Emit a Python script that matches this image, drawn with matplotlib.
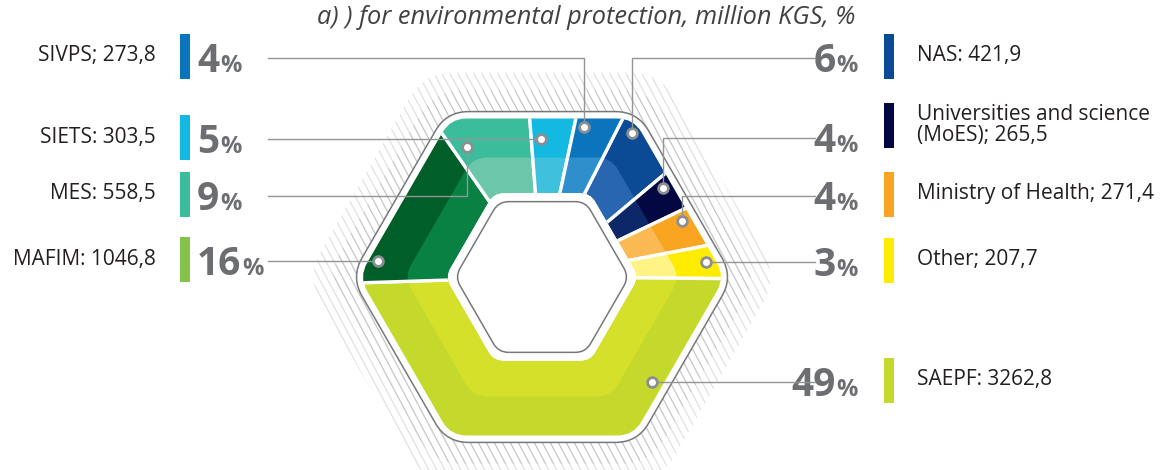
import numpy as np
import matplotlib.pyplot as plt
from matplotlib.path import Path
from matplotlib.patches import PathPatch, Rectangle
from matplotlib.collections import LineCollection

plt.rcParams['font.family'] = ['Open Sans', 'DejaVu Sans']

title = 'a) ) for environmental protection, million KGS, %'

# clockwise from the top
names = ['NAS:', 'Universities and science\n(MoES);', 'Ministry of Health;', 'Other;',
         'SAEPF:', 'MAFIM:', 'MES:', 'SIETS:', 'SIVPS;']
values = [421.9, 265.5, 271.4, 207.7, 3262.8, 1046.8, 558.5, 303.5, 273.8]
shares = [6, 4, 4, 3, 49, 16, 9, 5, 4]

outer_colors = ['#0b4a94', '#030842', '#f9a521', '#ffec00', '#c5d92d',
                '#005e28', '#3bbd9b', '#13b9e1', '#0a75bc']
inner_colors = ['#2866b1', '#0d2868', '#fbb954', '#fff385', '#d4e02a',
                '#088143', '#6bc6aa', '#3fc0dd', '#2f8ecc']
legend_colors = ['#0b4a94', '#030842', '#f9a521', '#ffec00', '#c5d92d',
                 '#84c24a', '#3bbd9b', '#13b9e1', '#0a75bc']

# layout (image pixel rows, measured from the top)
side = ['R', 'R', 'R', 'R', 'R', 'L', 'L', 'L', 'L']
rows = [58, 138, 196, 262, 382, 261, 196, 139, 58]

W, H = 1168, 470
fig = plt.figure(figsize=(W / 100, H / 100), dpi=100)
ax = fig.add_axes([0, 0, 1, 1])
cx, cy = 542, H - 277
grey = '#6d6e71'
line_c = '#939598'


def hex_verts(R, rc, rev=False):
    angs = np.radians(np.arange(0, 360, 60))
    if rev:
        angs = angs[::-1]
    V = np.c_[cx + R * np.cos(angs), cy + R * np.sin(angs)]
    verts, codes = [], []
    for i in range(6):
        p, v, q = V[i - 1], V[i], V[(i + 1) % 6]
        a = v + (p - v) / np.linalg.norm(p - v) * rc
        b = v + (q - v) / np.linalg.norm(q - v) * rc
        verts += [a, v, b]
        codes += [Path.LINETO if i else Path.MOVETO, Path.CURVE3, Path.CURVE3]
    verts.append(verts[0])
    codes.append(Path.CLOSEPOLY)
    return verts, codes


def hex_path(R, rc):
    v, c = hex_verts(R, rc)
    return Path(v, c)


def ring_path(r1, rc1, r2, rc2):
    v1, c1 = hex_verts(r1, rc1)
    v2, c2 = hex_verts(r2, rc2, rev=True)
    return Path(v1 + v2, c1 + c2)


# hatched halo, denser near the hexagon
slant = 1 / np.tan(np.radians(62))
x0 = np.arange(cx - 450, cx + 300, 8)
for R_h, col in [(236, '#dedede'), (216, '#c9c9c9')]:
    segs = [[(x, cy + 260), (x + 520 * slant, cy - 260)] for x in x0]
    lc = LineCollection(segs, colors=col, linewidths=0.8, zorder=1)
    ax.add_collection(lc)
    lc.set_clip_path(hex_path(R_h, 30), ax.transData)

ax.add_patch(PathPatch(hex_path(191, 22), fc='white', ec='#77787b', lw=1.1, zorder=2))
ax.add_patch(PathPatch(hex_path(87, 10), fc='white', ec='#77787b', lw=1.1, zorder=2))

band = ring_path(183, 16, 97, 10)
light = ring_path(138, 14, 97, 10)
wedges, _ = ax.pie(values, colors=outer_colors, startangle=63, counterclock=False,
                   center=(cx, cy), radius=230, frame=True,
                   wedgeprops=dict(ec='white', lw=2.4, zorder=3))
for w in wedges:
    w.set_clip_on(True)
    w.set_clip_path(band, ax.transData)
w_in, _ = ax.pie(values, colors=inner_colors, startangle=63, counterclock=False,
                 center=(cx, cy), radius=230, frame=True,
                 wedgeprops=dict(ec='white', lw=2.4, zorder=4))
for w in w_in:
    w.set_clip_on(True)
    w.set_clip_path(light, ax.transData)


def hex_point(deg, R):
    rel = deg % 60 - 30
    d = R * np.cos(np.pi / 6) / np.cos(np.radians(rel))
    a = np.radians(deg)
    return cx + d * np.cos(a), cy + d * np.sin(a)


renderer = fig.canvas.get_renderer()

for i, w in enumerate(wedges):
    y = H - rows[i]
    left = side[i] == 'L'
    anchor = 268 if left else 815
    # place the dot inside the outer band, as close to the label row as possible
    m = min(5, 0.25 * (w.theta2 - w.theta1))
    A, R = np.meshgrid(np.linspace(w.theta1 + m, w.theta2 - m, 150), np.linspace(150, 173, 20))
    px, py = hex_point(A.ravel(), R.ravel())
    cost = np.abs(py - y) + 0.15 * np.abs(px - anchor)
    k = np.argmin(cost)
    dx, dy = px[k], py[k]
    if abs(dy - y) < 2:
        dy = y
        ax.plot([anchor, dx], [y, y], color=line_c, lw=1, zorder=5)
    else:
        ax.plot([anchor, dx, dx], [y, y, dy], color=line_c, lw=1, zorder=5)
    ax.plot(dx, dy, 'o', ms=7, mfc='white', mec='#8d8e91', mew=2, zorder=6)

    nl = names[i].count('\n')
    ly = y + 2 + nl * 11
    label = f'{names[i]} {values[i]:.1f}'.replace('.', ',')
    bx = 180 if left else 884
    ax.add_patch(Rectangle((bx, ly - 22.5), 10, 45, color=legend_colors[i], lw=0, zorder=5))
    if left:
        ax.text(156, ly, label, ha='right', va='center', fontsize=15, color='#231f20')
        t = ax.text(197, y - 14, str(shares[i]), ha='left', va='baseline',
                    fontsize=28, fontweight='bold', color=grey)
        bb = t.get_window_extent(renderer)
        ax.text(197 + bb.width + 1, y - 14, '%', ha='left', va='baseline',
                fontsize=17, fontweight='bold', color=grey)
    else:
        ax.text(917, ly, label, ha='left', va='center', fontsize=15, color='#231f20',
                linespacing=1.05)
        t = ax.text(858, y - 14, '%', ha='right', va='baseline',
                    fontsize=17, fontweight='bold', color=grey)
        bb = t.get_window_extent(renderer)
        ax.text(858 - bb.width - 1, y - 14, str(shares[i]), ha='right', va='baseline',
                fontsize=28, fontweight='bold', color=grey)

ax.text(586, H - 18, title, ha='center', va='center', fontsize=18.3,
        style='italic', color='#414042')

ax.set_xlim(0, W)
ax.set_ylim(0, H)
ax.axis('off')
fig.savefig('out.png', dpi=100)
